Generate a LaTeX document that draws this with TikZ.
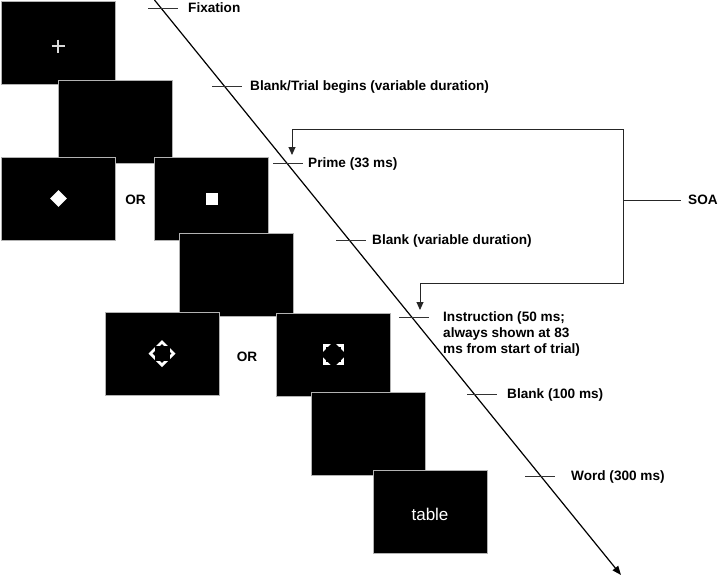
\documentclass[tikz,border=0pt]{standalone}
\usepackage{fontspec}
\setmainfont{Liberation Sans}
\usetikzlibrary{shapes.geometric,positioning,arrows.meta}

\tikzset{
  screen/.style={draw=gray!60, fill=black, line width=0.8pt, minimum width=114pt, minimum height=83pt, inner sep=0pt},
  tick/.style={line width=0.8pt, black!80},
  bracket/.style={line width=0.9pt, black!85},
  lfont/.style={font=\fontsize{13.6}{16}\selectfont\bfseries},
  lbl/.style={lfont, inner sep=0pt, text height=9.8pt, text depth=0pt},
}

\begin{document}
\begin{tikzpicture}[x=1pt, y=-1pt]
    \useasboundingbox (0,0) rectangle (720,576);
    % screens, later ones lie on top
    \foreach \nm/\x/\y in {fix/58/42.5, blanka/115/121.5, primea/58.5/198.5, primeb/211.5/198.5, blankb/236.5/275, instra/162/353.5, instrb/333.5/354.5, blankc/368.5/433.5, word/430/512} {
        \node[screen] (\nm) at (\x,\y) {};
    }
    % fixation cross
    \begin{scope}[shift={(fix.center)}]
        \draw[white!85!black, line width=1.3pt] (-6.5,3.5) -- (6.5,3.5) (0,-3) -- (0,10);
    \end{scope}
    % primes
    \node[diamond, fill=white, minimum width=17pt, minimum height=17pt, inner sep=0pt] (pdia) at (primea) {};
    \node[fill=white, minimum size=12pt, inner sep=0pt] (psq) at (primeb) {};
    % masks
    \begin{scope}[shift={(instra.center)}]
        \fill[white] (0,-13.5) -- (13.5,0) -- (0,13.5) -- (-13.5,0) -- cycle;
        \fill[black] (-7.5,-7.5) rectangle (7.5,7.5);
        \fill[black] (0,-9.3) -- (9.3,0) -- (0,9.3) -- (-9.3,0) -- cycle;
    \end{scope}
    \begin{scope}[shift={(instrb.center)}]
        \fill[white] (-10.5,-10.5) rectangle (10.5,10.5);
        \fill[black] (-7.5,-7.5) rectangle (7.5,7.5);
        \fill[black] (0,-13) -- (13,0) -- (0,13) -- (-13,0) -- cycle;
    \end{scope}
    \node[font=\fontsize{17}{20}\selectfont, text=white, inner sep=0pt] (tbl) at ([yshift=-2pt]word.center) {table};
    \node[lbl] (or-a) at (135.5,200) {OR};
    \node[lbl] (or-b) at (247,357) {OR};

    % time line and its ticks
    \coordinate (tl-s) at (154.5,0);
    \coordinate (tl-e) at (621,575);
    \draw[line width=1.2pt, -{Triangle[length=9pt,width=7pt]}] (tl-s) -- (tl-e);
    \foreach \nm/\xa/\ty in {fix/148/8, trial/212/86, prime/273/163, blankv/336/240, instr/399/317, blankc/467/394, word/525/476} {
        \draw[tick] (\xa,\ty) coordinate (\nm-l) -- ++(30,0) coordinate (\nm-r);
    }
    \node[lbl, right=10pt of fix-r] (lab-fix) {Fixation};
    \node[lbl, right=8pt of trial-r] (lab-trial) {Blank/Trial begins (variable duration)};
    \node[lbl, right=5pt of prime-r] (lab-prime) {Prime (33 ms)};
    \node[lbl, right=6pt of blankv-r] (lab-blankv) {Blank (variable duration)};
    \node[lfont, inner sep=0pt, align=left, anchor=north west] (lab-instr) at ([xshift=14pt,yshift=6pt]instr-r) {Instruction (50 ms;\\always shown at 83\\ms from start of trial)};
    \node[lbl, right=10pt of blankc-r] (lab-blankc) {Blank (100 ms)};
    \node[lbl, right=16pt of word-r] (lab-word) {Word (300 ms)};

    % SOA bracket
    \coordinate (soa-t) at (623,129);
    \coordinate (soa-b) at (623,283);
    \coordinate (soa-m) at (623,200);
    \draw[bracket, {Triangle[length=8pt,width=7pt]}-{Triangle[length=8pt,width=7pt]}] ([xshift=-11pt,yshift=8pt]prime-r) |- (soa-t) -- (soa-b) -| ([xshift=-9pt,yshift=7pt]instr-r);
    \draw[bracket] (soa-m) -- ++(58,0) coordinate (soa-e);
    \node[lbl, right=7pt of soa-e] (lab-soa) {SOA};
\end{tikzpicture}
\end{document}
